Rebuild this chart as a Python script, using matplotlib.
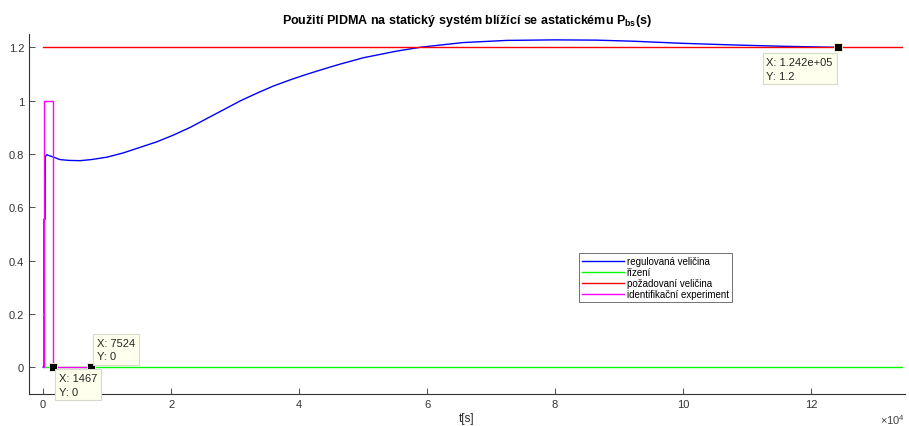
import numpy as np
import matplotlib
matplotlib.use("Agg")
import matplotlib.pyplot as plt

plt.rcParams["font.family"] = ["Liberation Sans", "DejaVu Sans"]
plt.rcParams["mathtext.fontset"] = "custom"
plt.rcParams["mathtext.rm"] = "Liberation Sans"
plt.rcParams["mathtext.bf"] = "Liberation Sans:bold"

# regulovana velicina
t_y = [0, 120, 130, 300, 320, 580, 1500, 2650, 4000, 5780, 7500, 9950, 12500,
       15160, 17800, 20360, 23000, 25580, 28200, 30780, 33400, 35990, 38600,
       41200, 44840, 46400, 50050, 55260, 59170, 65670, 72450, 80000, 86500,
       92200, 100000, 107800, 115600, 124200]
y = [0, 0, 0.555, 0.555, 0.79, 0.797, 0.789, 0.779, 0.776, 0.775, 0.779, 0.788,
     0.804, 0.825, 0.846, 0.871, 0.900, 0.933, 0.966, 0.999, 1.028, 1.055,
     1.078, 1.099, 1.126, 1.137, 1.161, 1.186, 1.201, 1.218, 1.226, 1.228,
     1.227, 1.223, 1.215, 1.209, 1.204, 1.2]

# rizeni
t_u = [0, 100, 100, 134200]
u = [0.2, 0.2, 0, 0]

# pozadovana velicina
t_w = [0, 134200]
w = [1.2, 1.2]

# identifikacni experiment
t_e = [0, 100, 100, 1467, 1467, 7524]
e = [0, 0, 1, 1, 0, 0]

# data tips
tips = [(1467, 0, "X: 1467\nY: 0", (6, -6), "left", "top"),
        (7524, 0, "X: 7524\nY: 0", (6, 6), "left", "bottom"),
        (124200, 1.2, "X: 1.242e+05\nY: 1.2", (-5, -10), "right", "top")]

fig = plt.figure(figsize=(9.09, 4.27), dpi=100)
ax = fig.add_axes([0.032, 0.075, 0.9636, 0.843])

lw = 1.0
ax.plot(t_y, y, color=(0, 0, 1), lw=lw, label="regulovaná veličina")
ax.plot(t_u, u, color=(0, 1, 0), lw=lw, label="řízení")
ax.plot(t_w, w, color=(1, 0, 0), lw=lw, label="požadovaní veličina")
ax.plot(t_e, e, color=(1, 0, 1), lw=lw, label="identifikační experiment")

ax.set_xlim(-2200, 134700)
ax.set_ylim(-0.1, 1.25)
ax.set_xticks(np.arange(0, 13, 2) * 1e4)
ax.set_xticklabels([str(v) for v in range(0, 13, 2)])
ax.set_yticks([0, 0.2, 0.4, 0.6, 0.8, 1.0, 1.2])
ax.set_yticklabels(["0", "0.2", "0.4", "0.6", "0.8", "1", "1.2"])
ax.tick_params(direction="in", length=4, labelsize=8, colors="0.2", width=0.6)
for s in ["top", "right"]:
    ax.spines[s].set_visible(False)
for s in ["left", "bottom"]:
    ax.spines[s].set_color("0.2")
    ax.spines[s].set_linewidth(0.8)

ax.set_title("Použití PIDMA na statický systém blížící se astatickému P$_\\mathbf{bs}$(s)",
             fontsize=9, fontweight="bold", pad=8)
ax.set_xlabel("t[s]", fontsize=8.5, labelpad=2, color="0.15")
ax.text(1.0, -0.07, "×10$^{4}$", transform=ax.transAxes, fontsize=8,
        color="0.25", ha="right", va="center")

for tx, ty, txt, off, ha, va in tips:
    ax.plot([tx], [ty], "s", color="black", ms=5.5, mec=(1, 1, 0.85), mew=0.6, zorder=5)
    ax.annotate(txt, (tx, ty), xytext=off, textcoords="offset pixels",
                ha=ha, va=va, multialignment="left", fontsize=8, color="0.15",
                linespacing=1.4,
                bbox=dict(boxstyle="square,pad=0.35", fc=(1, 1, 0.93),
                          ec=(0.85, 0.85, 0.8), lw=0.8), zorder=6)

leg = ax.legend(loc="lower left", bbox_to_anchor=(0.628, 0.255), fontsize=7,
                frameon=True, fancybox=False, handlelength=4.3, handletextpad=0.3,
                borderpad=0.3, labelspacing=0.1, borderaxespad=0)
leg.get_frame().set_edgecolor("0.3")
leg.get_frame().set_linewidth(0.7)

fig.savefig("out.png", dpi=100)
